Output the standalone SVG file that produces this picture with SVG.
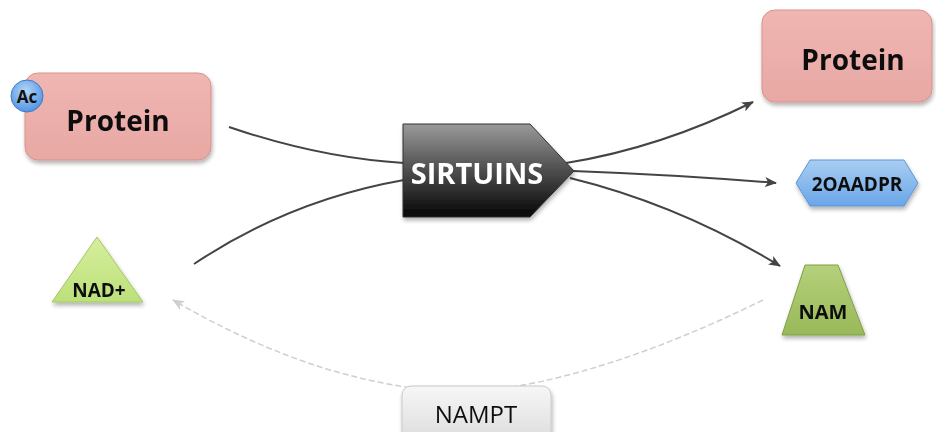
<svg xmlns="http://www.w3.org/2000/svg" width="936" height="432" viewBox="0 0 936 432">
  <defs>
    <linearGradient id="gPink" x1="0" y1="0" x2="0" y2="1">
      <stop offset="0" stop-color="#f0b6b2"/>
      <stop offset="1" stop-color="#e8a8a4"/>
    </linearGradient>
    <linearGradient id="gDark" x1="0" y1="0" x2="0" y2="1">
      <stop offset="0" stop-color="#9a9a9a"/>
      <stop offset="0.45" stop-color="#555"/>
      <stop offset="1" stop-color="#050505"/>
    </linearGradient>
    <linearGradient id="gBlue" x1="0" y1="0" x2="0" y2="1">
      <stop offset="0" stop-color="#a9cdf2"/>
      <stop offset="1" stop-color="#6aa6e8"/>
    </linearGradient>
    <radialGradient id="gBall" cx="0.45" cy="0.35" r="0.7">
      <stop offset="0" stop-color="#b5d6f7"/>
      <stop offset="1" stop-color="#4a8fe0"/>
    </radialGradient>
    <linearGradient id="gLime" x1="0" y1="0" x2="0" y2="1">
      <stop offset="0" stop-color="#d6ef9e"/>
      <stop offset="1" stop-color="#bce07a"/>
    </linearGradient>
    <linearGradient id="gOlive" x1="0" y1="0" x2="0" y2="1">
      <stop offset="0" stop-color="#b5d07a"/>
      <stop offset="1" stop-color="#98b958"/>
    </linearGradient>
    <linearGradient id="gGrey" x1="0" y1="0" x2="0" y2="1">
      <stop offset="0" stop-color="#f7f7f7"/>
      <stop offset="1" stop-color="#dcdcdc"/>
    </linearGradient>
    <filter id="shadow" x="-10%" y="-10%" width="125%" height="130%">
      <feGaussianBlur in="SourceAlpha" stdDeviation="2"/>
      <feOffset dx="1" dy="3" result="b"/>
      <feComponentTransfer><feFuncA type="linear" slope="0.3"/></feComponentTransfer>
      <feMerge><feMergeNode/><feMergeNode in="SourceGraphic"/></feMerge>
    </filter>
    <marker id="arrow" viewBox="0 0 12 10" refX="11" refY="5" markerWidth="12" markerHeight="10" markerUnits="userSpaceOnUse" orient="auto">
      <path d="M0,0 L12,5 L0,10 L3,5 Z" fill="#444"/>
    </marker>
    <marker id="arrowLight" viewBox="0 0 12 10" refX="11" refY="5" markerWidth="12" markerHeight="10" markerUnits="userSpaceOnUse" orient="auto">
      <path d="M0,0 L12,5 L0,10 L3,5 Z" fill="#cfcfcf"/>
    </marker>
  </defs>
  <style>
    .lbl { font-family: "Open Sans", "Liberation Sans", sans-serif; font-weight: bold; fill: #111; text-anchor: middle; }
    .edge { fill: none; stroke: #444; stroke-width: 2; }
    .edge-dash { fill: none; stroke: #cfcfcf; stroke-width: 1.5; stroke-dasharray: 6 3; }
  </style>

  <rect width="936" height="432" fill="#fff"/>

  <!-- connectors -->
  <g id="connectors">
    <path class="edge" d="M229,127 Q320,158 404,163"/>
    <path class="edge" d="M194,264 Q290,200 404,180"/>
    <path class="edge" d="M566,163 Q660,148 753,102" marker-end="url(#arrow)"/>
    <path class="edge" d="M573,171 Q680,175 776,183" marker-end="url(#arrow)"/>
    <path class="edge" d="M570,178 Q680,205 780,266" marker-end="url(#arrow)"/>
    <path class="edge-dash" d="M763,300 Q600,380 475,392 Q330,392 173,300" marker-end="url(#arrowLight)"/>
  </g>

  <!-- acetylated protein -->
  <g id="protein-ac" filter="url(#shadow)">
    <rect x="25" y="73" width="186" height="87" rx="13" fill="url(#gPink)" stroke="#d8918c" stroke-width="1"/>
    <text class="lbl" x="118" y="131" font-size="28">Protein</text>
  </g>
  <g id="ac">
    <circle cx="27" cy="96" r="16" fill="url(#gBall)" stroke="#3a7bd0" stroke-width="1"/>
    <text class="lbl" x="27" y="103" font-size="17">Ac</text>
  </g>

  <!-- sirtuins enzyme -->
  <g id="sirtuins" filter="url(#shadow)">
    <path d="M403,124 L530,124 L574,171 L530,217 L403,217 Z" fill="url(#gDark)" stroke="#333" stroke-width="1"/>
    <text x="477" y="184" font-family="Open Sans, Liberation Sans, sans-serif" font-weight="bold" font-size="29" fill="#fff" text-anchor="middle">SIRTUINS</text>
  </g>

  <!-- deacetylated protein -->
  <g id="protein" filter="url(#shadow)">
    <rect x="762" y="10" width="170" height="92" rx="13" fill="url(#gPink)" stroke="#d8918c" stroke-width="1"/>
    <text class="lbl" x="853" y="70" font-size="28">Protein</text>
  </g>

  <!-- 2OAADPR -->
  <g id="oaadpr" filter="url(#shadow)">
    <path d="M796,183 L810,160 L904,160 L918,183 L904,206 L810,206 Z" fill="url(#gBlue)" stroke="#5b95d8" stroke-width="1"/>
    <text class="lbl" x="857" y="191" font-size="19">2OAADPR</text>
  </g>

  <!-- NAD+ -->
  <g id="nad" filter="url(#shadow)">
    <path d="M97,237 L143,302 L52,302 Z" fill="url(#gLime)" stroke="#a6c860" stroke-width="1"/>
    <text class="lbl" x="99" y="297" font-size="19">NAD+</text>
  </g>

  <!-- NAM -->
  <g id="nam" filter="url(#shadow)">
    <path d="M805,265 L838,265 L865,335 L782,335 Z" fill="url(#gOlive)" stroke="#7f9f45" stroke-width="1"/>
    <text class="lbl" x="823" y="319" font-size="20">NAM</text>
  </g>

  <!-- NAMPT -->
  <g id="nampt" filter="url(#shadow)">
    <rect x="402" y="386" width="149" height="56" rx="9" fill="url(#gGrey)" stroke="#c8c8c8" stroke-width="1"/>
    <text x="476" y="423" font-family="Open Sans, Liberation Sans, sans-serif" font-size="24" fill="#111" text-anchor="middle">NAMPT</text>
  </g>
</svg>
